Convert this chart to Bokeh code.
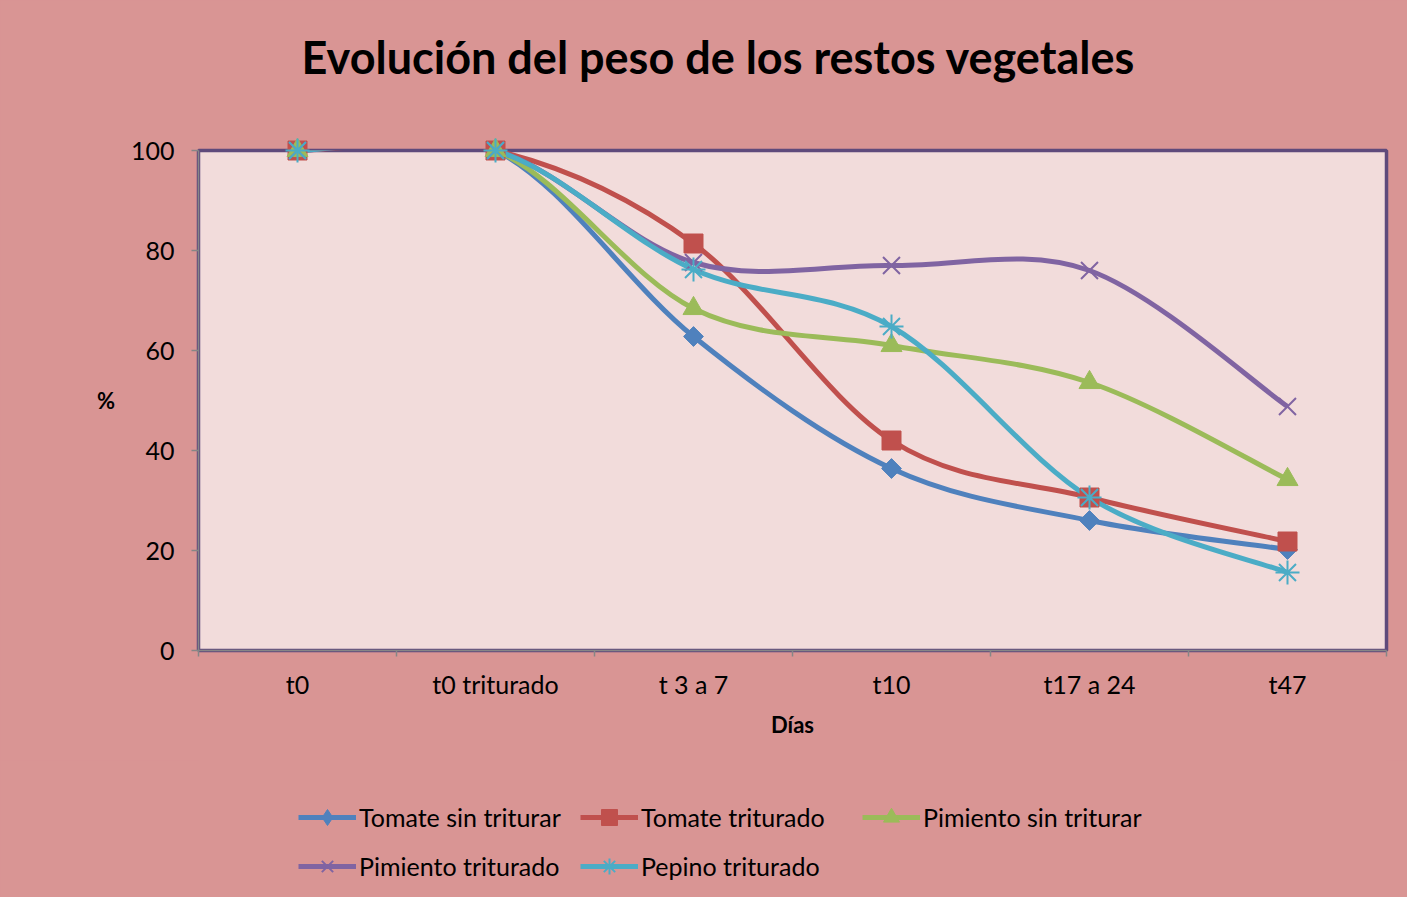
import math
from bokeh.plotting import figure
from bokeh.layouts import column
from bokeh.models import Range1d, FixedTicker, Legend, LegendItem, ColumnDataSource, Title
from bokeh.embed import file_html
from bokeh.resources import INLINE

# ---------------- data ----------------
categories = ["t0", "t0 triturado", "t 3 a 7", "t10", "t17 a 24", "t47"]
tomate_sin_triturar = [100, 100, 62.8, 36.4, 26.0, 20.2]
tomate_triturado = [100, 100, 81.4, 42.0, 30.6, 21.8]
pimiento_sin_triturar = [100, 100, 68.4, 61.0, 53.6, 34.2]
pimiento_triturado = [100, 100, 77.6, 77.0, 76.0, 48.8]
pepino_triturado = [100, 100, 76.2, 64.8, 30.6, 15.6]
series_names = ["Tomate sin triturar", "Tomate triturado", "Pimiento sin triturar",
                "Pimiento triturado", "Pepino triturado"]
y_ticks = [0, 20, 40, 60, 80, 100]

series_values = [tomate_sin_triturar, tomate_triturado, pimiento_sin_triturar,
                 pimiento_triturado, pepino_triturado]
colors = ["#4F81BD", "#C0504D", "#9BBB59", "#8064A2", "#4BACC6"]

FONT = "Lato"
BG = "#D99594"
PLOT_BG = "#F2DCDB"
BORDER = "#5F4A7B"
W = 1407
H_MAIN = 760
H_LEG = 137

xs = [i + 0.5 for i in range(len(categories))]

p = figure(width=W, height=H_MAIN, output_backend="svg", toolbar_location=None,
           x_range=Range1d(0, len(categories)), y_range=Range1d(0, 100),
           min_border_left=198, min_border_right=21, min_border_top=150,
           min_border_bottom=H_MAIN - 650)
p.background_fill_color = PLOT_BG
p.border_fill_color = BG
p.outline_line_color = BORDER
p.outline_line_width = 3.5
p.grid.visible = False

# x axis: labels at category centres, tick marks at boundaries
p.xaxis.ticker = FixedTicker(ticks=xs, minor_ticks=list(range(len(categories) + 1)))
p.xaxis.major_label_overrides = {x: c for x, c in zip(xs, categories)}
p.xaxis.major_tick_out = 0
p.xaxis.major_tick_in = 0
p.xaxis.minor_tick_out = 6
p.xaxis.minor_tick_in = 0
p.xaxis.minor_tick_line_color = "#868686"
p.xaxis.minor_tick_line_width = 1.5
p.xaxis.major_label_standoff = 12
p.xaxis.axis_label = "Días"
p.xaxis.axis_label_standoff = 9

p.yaxis.ticker = FixedTicker(ticks=y_ticks, minor_ticks=[])
p.yaxis.major_tick_out = 7
p.yaxis.major_tick_in = 0
p.yaxis.major_tick_line_color = "#868686"
p.yaxis.major_tick_line_width = 1.5
p.yaxis.major_label_standoff = 17
p.yaxis.axis_label = "%"
p.yaxis.axis_label_orientation = "horizontal"
p.yaxis.axis_label_standoff = 13

for ax in (p.xaxis, p.yaxis):
    ax.axis_line_color = "#868686"
    ax.axis_line_width = 1.5
    ax.major_label_text_font = FONT
    ax.major_label_text_font_size = "25px"
    ax.major_label_text_color = "black"
    ax.axis_label_text_font = FONT
    ax.axis_label_text_font_size = "22px"
    ax.axis_label_text_font_style = "bold"
    ax.axis_label_text_color = "black"


def smooth(xv, yv):
    n = len(xv)
    out = dict(x0=[], y0=[], x1=[], y1=[], cx0=[], cy0=[], cx1=[], cy1=[])
    for i in range(n - 1):
        im = i - 1 if i > 0 else i
        ip = i + 2 if i + 2 < n else i + 1
        out["x0"].append(xv[i]); out["y0"].append(yv[i])
        out["x1"].append(xv[i + 1]); out["y1"].append(yv[i + 1])
        out["cx0"].append(xv[i] + (xv[i + 1] - xv[im]) / 6)
        out["cy0"].append(yv[i] + (yv[i + 1] - yv[im]) / 6)
        out["cx1"].append(xv[i + 1] - (xv[ip] - xv[i]) / 6)
        out["cy1"].append(yv[i + 1] - (yv[ip] - yv[i]) / 6)
    return out


markers = ["square", "square", "triangle", "x", "asterisk"]
angles = [math.pi / 4, 0, 0, 0, 0]
sizes = [14, 19, 21, 24, 24]

for vals, col in zip(series_values, colors):
    src = ColumnDataSource(smooth(xs, vals))
    p.bezier(x0="x0", y0="y0", x1="x1", y1="y1", cx0="cx0", cy0="cy0",
             cx1="cx1", cy1="cy1", source=src, line_color=col, line_width=5)

for vals, col, mk, ang, sz in zip(series_values, colors, markers, angles, sizes):
    mr = p.scatter(xs, vals, marker=mk, size=sz, angle=ang, fill_color=col,
                   line_color=col, line_width=2 if mk in ("x", "asterisk") else 1)
    mr.level = "overlay"

# title: spacer nearest the frame, then the title text
p.title.visible = False
p.add_layout(Title(text=" ", text_font_size="10px", standoff=54), "above")
p.add_layout(Title(text="Evolución del peso de los restos vegetales", text_font=FONT,
                   text_font_size="45px", text_font_style="bold", text_color="black",
                   align="left", offset=103, standoff=0), "above")

# ---------------- legend strip (second figure below) ----------------
lf = figure(width=W, height=H_LEG, output_backend="svg", toolbar_location=None,
            x_range=Range1d(0, 1), y_range=Range1d(0, 1),
            x_axis_location=None, y_axis_location=None,
            min_border_left=0, min_border_right=0, min_border_top=0, min_border_bottom=0)
lf.background_fill_alpha = 0
lf.border_fill_color = BG
lf.outline_line_color = None
lf.grid.visible = False
lf.title.visible = False

legend_markers = ["diamond", "square", "triangle", "x", "asterisk"]
items = []
for name, col, mk in zip(series_names, colors, legend_markers):
    lr = lf.line([float("nan")], [float("nan")], line_color=col, line_width=5)
    mr = lf.scatter([float("nan")], [float("nan")], marker=mk, fill_color=col,
                    line_color=col, line_width=2 if mk in ("x", "asterisk") else 1)
    items.append(LegendItem(label=name, renderers=[lr, mr]))


def make_legend(its, loc):
    return Legend(items=its, location=loc, orientation="horizontal",
                  glyph_width=58, glyph_height=40, label_standoff=3, label_width=221,
                  spacing=0, padding=0, margin=0, border_line_color=None,
                  background_fill_alpha=0, label_text_font=FONT,
                  label_text_font_size="25px", label_text_color="black")


lf.add_layout(make_legend(items[:3], (100, 60)), "center")
lf.add_layout(make_legend(items[3:], (100, 11)), "center")

layout = column(p, lf, spacing=0, styles={"background-color": BG})
open("out.html", "w").write(file_html(layout, INLINE))
